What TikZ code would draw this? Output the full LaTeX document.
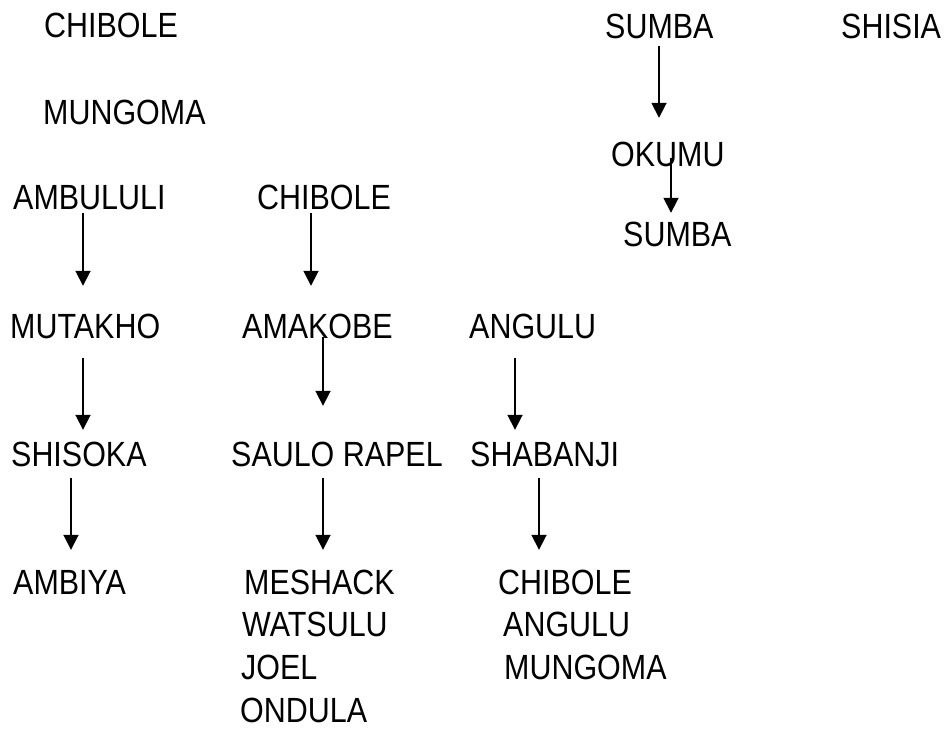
\documentclass[tikz,border=0pt]{standalone}
\usepackage{fontspec}
\setmainfont{Liberation Sans}[FakeStretch=0.87]
\usetikzlibrary{arrows.meta}
\begin{document}
\begin{tikzpicture}[x=1pt,y=-1pt,
  lbl/.style={anchor=west,inner sep=0pt,text height=25pt,text depth=0pt,font=\fontsize{35}{42}\selectfont},
  arr/.style={line width=1.8pt,-{Triangle[width=15pt,length=15pt]}}]
\useasboundingbox (0,0) rectangle (947,728);
% top left
\node[lbl] (chib1) at (44,25) {CHIBOLE};
\node[lbl] (mung1) at (43,112) {MUNGOMA};
% column 1
\node[lbl] (ambu) at (13,197) {AMBULULI};
\node[lbl] (muta) at (10,326) {MUTAKHO};
\node[lbl] (shis) at (11,454) {SHISOKA};
\node[lbl] (ambi) at (13,582) {AMBIYA};
% column 2
\node[lbl] (chib2) at (257,197) {CHIBOLE};
\node[lbl] (amak) at (242,326) {AMAKOBE};
\node[lbl] (saul) at (231,454) {SAULO RAPEL};
\node[lbl] (mesh) at (244,582) {MESHACK};
\node[lbl] (wats) at (242,624) {WATSULU};
\node[lbl] (joel) at (241,667) {JOEL};
\node[lbl] (ondu) at (240,710) {ONDULA};
% column 3
\node[lbl] (angu1) at (469,326) {ANGULU};
\node[lbl] (shab) at (470,454) {SHABANJI};
\node[lbl] (chib3) at (498,582) {CHIBOLE};
\node[lbl] (angu2) at (503,624) {ANGULU};
\node[lbl] (mung2) at (504,667) {MUNGOMA};
% top right
\node[lbl] (sumb1) at (605,26) {SUMBA};
\node[lbl] (shisia) at (841,26) {SHISIA};
\node[lbl] (okum) at (611,154) {OKUMU};
\node[lbl] (sumb2) at (623,234) {SUMBA};
% arrow columns
\coordinate (k71) at (71,0);
\coordinate (k83) at (83,0);
\coordinate (k311) at (311,0);
\coordinate (k323) at (323,0);
\coordinate (k515) at (515,0);
\coordinate (k539) at (539,0);
\coordinate (k659) at (659,0);
\coordinate (k671) at (671,0);
% arrows
\draw[arr,shorten <=3.5pt,shorten >=27.5pt] (ambu.south -| k83) -- (muta.north -| k83);
\draw[arr,shorten <=19.5pt,shorten >=11.5pt] (muta.south -| k83) -- (shis.north -| k83);
\draw[arr,shorten <=11.5pt,shorten >=19.5pt] (shis.south -| k71) -- (ambi.north -| k71);
\draw[arr,shorten <=3.5pt,shorten >=27.5pt] (chib2.south -| k311) -- (amak.north -| k311);
\draw[arr,shorten <=-1.5pt,shorten >=35.5pt] (amak.south -| k323) -- (saul.north -| k323);
\draw[arr,shorten <=19.5pt,shorten >=11.5pt] (angu1.south -| k515) -- (shab.north -| k515);
\draw[arr,shorten <=11.5pt,shorten >=19.5pt] (saul.south -| k323) -- (mesh.north -| k323);
\draw[arr,shorten <=11.5pt,shorten >=19.5pt] (shab.south -| k539) -- (chib3.north -| k539);
\draw[arr,shorten <=7.5pt,shorten >=23.5pt] (sumb1.south -| k659) -- (okum.north -| k659);
\draw[arr,shorten <=-8.5pt,shorten >=8.5pt] (okum.south -| k671) -- (sumb2.north -| k671);
\end{tikzpicture}
\end{document}
